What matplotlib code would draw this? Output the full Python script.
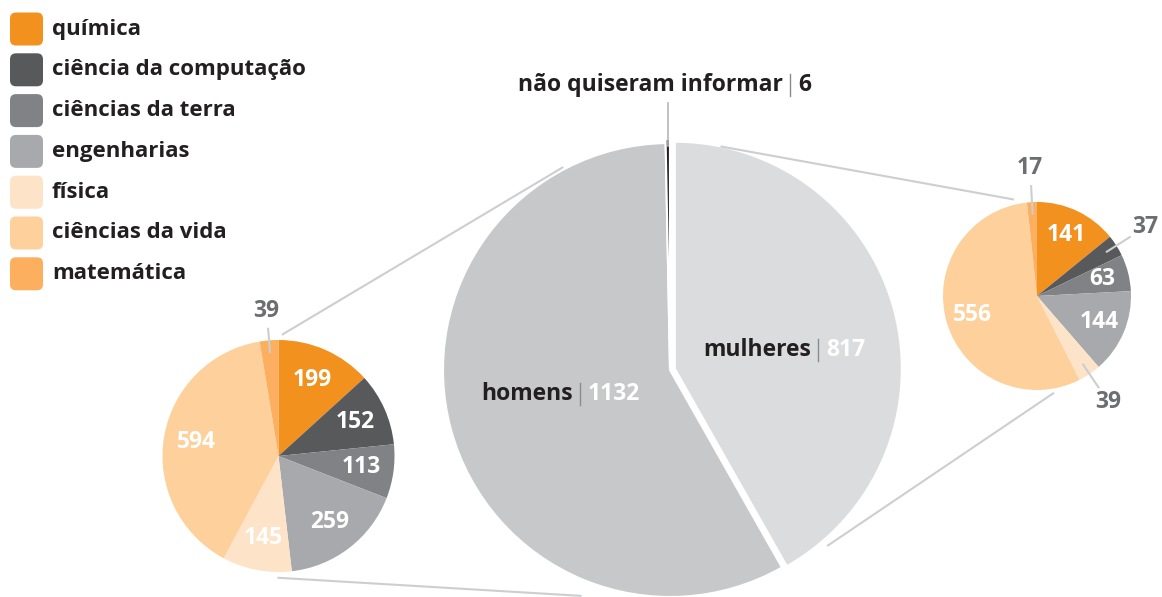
import matplotlib.pyplot as plt
import numpy as np
from matplotlib.patches import FancyBboxPatch

plt.rcParams['font.family'] = ['Open Sans', 'DejaVu Sans']

W, H = 1162, 597

# data
areas = ["química", "ciência da computação", "ciências da terra", "engenharias",
         "física", "ciências da vida", "matemática"]
area_colors = ["#F3911F", "#58595B", "#808285", "#A7A9AC", "#FDE3C8", "#FDD09C", "#FBAF5F"]
homens_areas = [199, 152, 113, 259, 145, 594, 39]
mulheres_areas = [141, 37, 63, 144, 39, 556, 17]

genero = ["mulheres", "homens", "não quiseram informar"]
genero_vals = [817, 1132, 6]
genero_colors = ["#DBDCDE", "#C7C8CA", "#231F20"]

GREY_TXT = "#6D6E71"
LINE = "#CDCED0"
FS = 16.5


def py(y):
    return H - y


def polar(c, r, ang):
    a = np.radians(ang)
    return c[0] + r * np.cos(a), c[1] + r * np.sin(a)


fig = plt.figure(figsize=(W / 100, H / 100), dpi=100)
ax = fig.add_axes([0, 0, 1, 1])

# central pie
c_big = (670, py(370))
r_big = 227
ax.pie(genero_vals, colors=genero_colors, startangle=90, counterclock=False,
       center=c_big, radius=r_big, explode=[5, 0, 4],
       wedgeprops=dict(edgecolor="white", linewidth=1.5))

# small pies
c_left, r_left = (278.5, py(456)), 116
c_right, r_right = (1037, py(296)), 94


def small_pie(vals, c, r, lead):
    wedges, _ = ax.pie(vals, colors=area_colors, startangle=90, counterclock=False,
                       center=c, radius=r, wedgeprops=dict(linewidth=0))
    tot = sum(vals)
    for w, v in zip(wedges, vals):
        mid = (w.theta1 + w.theta2) / 2
        if v / tot >= 0.05:
            x, y = polar(c, r * 0.72, mid)
            ax.text(x, y, str(v), color="white", fontsize=FS, fontweight="bold",
                    ha="center", va="center")
        else:
            x0, y0 = polar(c, r * lead[0], mid)
            x1, y1 = polar(c, r * lead[1], mid)
            ax.plot([x0, x1], [y0, y1], color=LINE, lw=1.5)
            x, y = polar(c, r * lead[2], mid)
            ax.text(x, y, str(v), color=GREY_TXT, fontsize=FS, fontweight="bold",
                    ha="center", va="center")


small_pie(homens_areas, c_left, r_left, (0.9, 1.1, 1.25))
small_pie(mulheres_areas, c_right, r_right, (0.88, 1.17, 1.36))

# connector lines
conn = [
    (c_left, r_left * 1.05, 88, c_big, r_big * 1.01, 118),
    (c_left, r_left * 1.05, -90, c_big, r_big * 1.07, -111.6),
    (c_big, r_big * 1.01, 77, c_right, r_right * 1.06, 104),
    (c_big, r_big * 1.04, -48, c_right, r_right * 1.05, -80.6),
]
for ca, ra, aa, cb, rb, ab in conn:
    p0 = polar(ca, ra, aa)
    p1 = polar(cb, rb, ab)
    ax.plot([p0[0], p1[0]], [p0[1], p1[1]], color=LINE, lw=1.5)


# central labels "name | value"
def sep_label(xbar, y, name, val, val_color):
    ax.text(xbar - 7, y, name, color="#231F20", fontsize=FS, fontweight="bold",
            ha="right", va="center")
    ax.plot([xbar, xbar], [y - 11, y + 11], color="#8A8B8D", lw=1)
    ax.text(xbar + 8, y, str(val), color=val_color, fontsize=FS, fontweight="bold",
            ha="left", va="center")


sep_label(790, py(85), genero[2], genero_vals[2], "#231F20")
sep_label(580, py(394), genero[1], genero_vals[1], "white")
sep_label(818, py(350), genero[0], genero_vals[0], "white")
ax.plot([668, 668], [py(103), py(146)], color="#B5B6B8", lw=1.2)

# legend
for i, (lab, col) in enumerate(zip(areas, area_colors)):
    yc = py(29 + i * 40.8)
    ax.add_patch(FancyBboxPatch((12, yc - 14.5), 29, 29,
                                boxstyle="round,pad=2,rounding_size=6",
                                facecolor=col, edgecolor="none"))
    ax.text(52, yc, lab, color="#231F20", fontsize=FS - 0.5, fontweight="bold",
            ha="left", va="center")

ax.set_xlim(0, W)
ax.set_ylim(0, H)
ax.set_aspect("equal")
ax.axis("off")

fig.savefig("out.png", dpi=100)
